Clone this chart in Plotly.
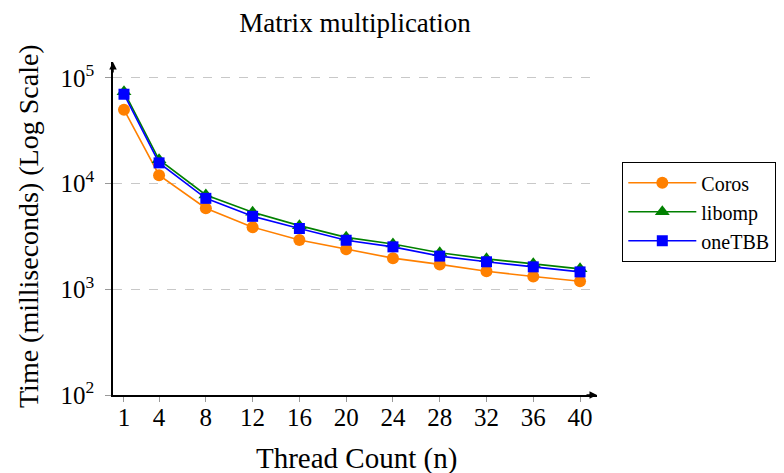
import plotly.graph_objects as go

threads = [1, 4, 8, 12, 16, 20, 24, 28, 32, 36, 40]
coros = [50000, 12000, 5850, 3870, 2920, 2390, 1970, 1720, 1480, 1320, 1190]
libomp = [74000, 16800, 7800, 5350, 4000, 3100, 2680, 2220, 1940, 1740, 1560]
onetbb = [70000, 15700, 7250, 4900, 3760, 2910, 2520, 2060, 1820, 1630, 1460]

y_tickvals = [100, 1000, 10000, 100000]
y_ticktext = ["10<sup>2</sup>", "10<sup>3</sup>", "10<sup>4</sup>", "10<sup>5</sup>"]

FONT = "Liberation Serif, serif"
TICK = dict(family=FONT, size=25, color="black")
LAB = dict(family=FONT, size=29, color="black")

# page body has an 8px margin: figure is laid out in (screen - 8) coordinates
W, H = 776, 465
L, R, T, B = 105, 589, 54, 387

fig = go.Figure()
series = [
    ("Coros", coros, "#ff8000", "circle", 12),
    ("libomp", libomp, "#008000", "triangle-up", 13),
    ("oneTBB", onetbb, "#0000ff", "square", 11),
]
for name, vals, col, sym, sz in series:
    fig.add_trace(go.Scatter(
        x=threads, y=vals, name=name, mode="lines+markers",
        line=dict(color=col, width=1.6),
        marker=dict(symbol=sym, size=sz, color=col, line=dict(width=0)),
    ))

fig.update_layout(
    template="none",
    width=W, height=H,
    margin=dict(l=L, r=W - R, t=T, b=H - B, autoexpand=False),
    plot_bgcolor="white", paper_bgcolor="white",
    font=dict(family=FONT, size=25, color="black"),
    title=dict(text="Matrix multiplication", x=347 / W, xanchor="center",
               y=1 - 15 / H, yref="container", yanchor="middle",
               font=dict(family=FONT, size=27, color="black")),
    showlegend=True,
    legend=dict(x=(614 - L) / (R - L), xanchor="left", y=(B - 204) / (B - T), yanchor="middle",
                bordercolor="black", borderwidth=1.3, bgcolor="white",
                font=dict(family=FONT, size=20, color="black"), itemwidth=68,
                tracegroupgap=0),
)
fig.update_xaxes(
    range=[0.06, 41.45], tickvals=threads, ticktext=[str(t) for t in threads],
    showgrid=False, zeroline=False, automargin=False,
    showline=True, linecolor="black", linewidth=1.5,
    ticks="outside", ticklen=5, tickcolor="#999999", tickwidth=1,
    ticklabelstandoff=-6, tickfont=TICK,
)
fig.update_yaxes(
    type="log", range=[2, 5.15], tickvals=y_tickvals, ticktext=y_ticktext,
    showgrid=True, gridcolor="#c8c8c8", griddash="dash", gridwidth=1,
    zeroline=False, showline=True, linecolor="black", linewidth=1.5, automargin=False,
    ticks="outside", ticklen=6, tickcolor="#999999", tickwidth=1,
    ticklabelstandoff=6, tickfont=TICK,
)
# axis titles
fig.add_annotation(text="Thread Count (n)", xref="paper", yref="paper",
                   x=(348 - L) / (R - L), y=-(450 - B) / (B - T), xanchor="center", yanchor="middle",
                   showarrow=False, font=LAB)
fig.add_annotation(text="Time (milliseconds) (Log Scale)", xref="paper", yref="paper",
                   x=-(L - 20) / (R - L), y=(B - 218) / (B - T), xanchor="center", yanchor="middle",
                   textangle=-90, showarrow=False, font=dict(family=FONT, size=28, color="black"))
# axis arrowheads
fig.add_annotation(x=1, y=0, xref="paper", yref="paper", ax=-12, ay=0, text="",
                   showarrow=True, arrowhead=2, arrowsize=1, arrowwidth=1.5, arrowcolor="black")
fig.add_annotation(x=0, y=1, xref="paper", yref="paper", ax=0, ay=12, text="",
                   showarrow=True, arrowhead=2, arrowsize=1, arrowwidth=1.5, arrowcolor="black")

fig.write_html("out.html")
